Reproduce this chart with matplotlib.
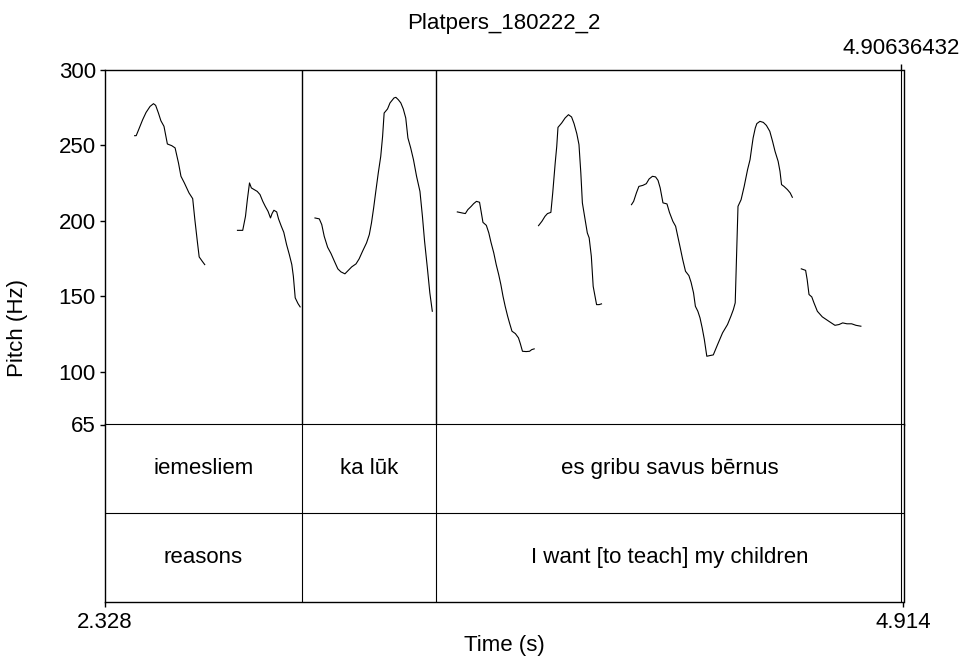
import matplotlib
matplotlib.use('Agg')
import matplotlib.pyplot as plt

plt.rcParams['font.family'] = ['Liberation Sans', 'DejaVu Sans']

title = 'Platpers_180222_2'
t_start = 2.328
t_end = 4.914
sound_end = 4.90636432
pitch_ticks = [65, 100, 150, 200, 250, 300]

# pitch contour pieces (time in s, pitch in Hz)
seg1_t = [2.424, 2.429, 2.437, 2.450, 2.461, 2.474, 2.485, 2.492, 2.501, 2.509, 2.519, 2.530,
          2.544, 2.555, 2.566, 2.574, 2.585, 2.600, 2.612, 2.619, 2.627, 2.633, 2.643, 2.651]
seg1_hz = [256.3, 256.3, 260.3, 266.9, 271.7, 275.7, 277.5, 276.4, 271.3, 266.2, 262.5, 250.8,
           249.7, 248.2, 238.2, 229.4, 225.0, 218.4, 214.6, 200.7, 186.3, 176.0, 173.1, 170.9]

seg2_t = [2.757, 2.774, 2.783, 2.789, 2.796, 2.802, 2.811, 2.821, 2.830, 2.839, 2.847, 2.856, 2.864,
          2.869, 2.875, 2.884, 2.890, 2.899, 2.907, 2.916, 2.925, 2.933, 2.938, 2.944, 2.953, 2.960]
seg2_hz = [193.6, 193.6, 202.9, 213.9, 225.0, 221.7, 220.6, 219.4, 217.3, 212.8, 209.5, 206.2, 201.8,
           204.7, 206.9, 205.8, 201.2, 196.3, 192.3, 184.2, 177.5, 170.9, 163.2, 148.9, 145.1, 142.9]

seg3_t = [3.008, 3.022, 3.030, 3.038, 3.049, 3.060, 3.071, 3.082, 3.092, 3.105, 3.116, 3.127, 3.141,
          3.151, 3.162, 3.175, 3.184, 3.191, 3.198, 3.205, 3.213, 3.221, 3.227, 3.232, 3.243, 3.251,
          3.264, 3.270, 3.278, 3.286, 3.294, 3.302, 3.309, 3.318, 3.327, 3.337, 3.348, 3.356, 3.363,
          3.372, 3.380, 3.388]
seg3_hz = [201.8, 201.2, 197.4, 189.6, 182.4, 178.2, 173.1, 168.1, 166.1, 164.8, 167.1, 169.4, 171.4,
           174.7, 179.7, 185.3, 190.8, 198.5, 208.4, 219.4, 231.6, 242.6, 255.8, 271.3, 274.0, 278.0,
           281.3, 281.7, 280.1, 278.0, 274.0, 268.0, 254.8, 248.2, 240.4, 229.4, 219.4, 202.9, 186.3,
           168.7, 152.2, 140.0]

seg4_t = [3.469, 3.485, 3.495, 3.503, 3.514, 3.522, 3.531, 3.541, 3.546, 3.552, 3.563, 3.571, 3.578,
          3.587, 3.595, 3.603, 3.610, 3.617, 3.624, 3.632, 3.638, 3.646, 3.657, 3.667, 3.673, 3.680,
          3.692, 3.703, 3.710, 3.718]
seg4_hz = [205.8, 205.1, 204.7, 207.3, 209.5, 211.3, 212.8, 212.2, 206.2, 198.9, 196.9, 191.9, 185.7,
           178.7, 170.9, 164.3, 157.7, 149.9, 143.3, 136.7, 132.3, 126.8, 125.2, 122.4, 118.6, 113.5,
           113.3, 113.5, 114.6, 115.1]

seg5_t = [3.732, 3.743, 3.753, 3.761, 3.772, 3.778, 3.786, 3.791, 3.795, 3.807, 3.818, 3.829, 3.839,
          3.847, 3.856, 3.863, 3.869, 3.874, 3.882, 3.890, 3.896, 3.903, 3.909, 3.915, 3.920, 3.928,
          3.936]
seg5_hz = [196.7, 199.6, 202.9, 204.7, 205.5, 218.4, 238.2, 249.2, 261.8, 264.7, 268.0, 270.2, 268.7,
           264.3, 257.6, 250.4, 231.6, 211.8, 201.8, 191.9, 188.6, 176.4, 156.5, 149.9, 144.4, 144.4,
           144.9]

seg6_t = [4.033, 4.040, 4.049, 4.057, 4.070, 4.081, 4.090, 4.101, 4.111, 4.119, 4.126, 4.135, 4.148,
          4.156, 4.167, 4.176, 4.183, 4.191, 4.199, 4.208, 4.219, 4.226, 4.234, 4.240, 4.248, 4.255,
          4.262, 4.269, 4.277, 4.288, 4.298, 4.312, 4.328, 4.344, 4.355, 4.363, 4.369, 4.373, 4.378,
          4.388, 4.398, 4.409, 4.417, 4.423, 4.427, 4.434, 4.439, 4.449, 4.460, 4.470, 4.481, 4.490,
          4.498, 4.508, 4.514, 4.519, 4.527, 4.538, 4.547, 4.554]
seg6_hz = [210.6, 212.8, 218.4, 222.7, 223.4, 224.5, 227.6, 229.4, 229.0, 226.7, 221.7, 211.8, 211.1,
           205.5, 199.6, 196.3, 189.6, 182.0, 174.2, 166.5, 163.6, 159.2, 152.2, 143.3, 140.0, 135.6,
           129.0, 121.3, 110.2, 110.7, 111.1, 118.0, 125.7, 131.2, 136.7, 141.1, 145.6, 174.2, 209.5,
           213.9, 222.7, 233.8, 240.4, 249.2, 254.8, 261.4, 264.3, 265.8, 265.1, 263.1, 259.2, 252.5,
           245.9, 239.3, 232.7, 223.9, 222.7, 220.6, 218.4, 215.5]

seg7_t = [4.583, 4.597, 4.602, 4.608, 4.617, 4.624, 4.635, 4.651, 4.672, 4.692, 4.705, 4.717, 4.731,
          4.746, 4.760, 4.776]
seg7_hz = [168.1, 167.1, 161.0, 151.1, 149.5, 145.6, 140.0, 136.3, 133.4, 130.7, 131.2, 132.3, 131.7,
           131.7, 130.7, 130.1]

# text grid tiers
boundaries = [2.965, 3.401]
tier1_labels = ['iemesliem', 'ka lūk', 'es gribu savus bērnus']
tier2_labels = ['reasons', '', 'I want [to teach] my children']

W, H = 961, 661
fig = plt.figure(figsize=(W / 100, H / 100), dpi=100)

left, right = 105 / W, 903.5 / W
top, mid, bottom = 1 - 69.7 / H, 1 - 424.5 / H, 1 - 601.7 / H
ax_p = fig.add_axes([left, mid, right - left, top - mid])
ax_t = fig.add_axes([left, bottom, right - left, mid - bottom])

fs = 16
lw_frame = 1.0

# pitch panel
for t, hz in [(seg1_t, seg1_hz), (seg2_t, seg2_hz), (seg3_t, seg3_hz), (seg4_t, seg4_hz),
              (seg5_t, seg5_hz), (seg6_t, seg6_hz), (seg7_t, seg7_hz)]:
    ax_p.plot(t, hz, color='black', lw=0.8)

ax_p.set_xlim(t_start, t_end)
ax_p.set_ylim(65, 300)
ax_p.set_yticks(pitch_ticks)
ax_p.set_yticklabels([str(v) for v in pitch_ticks], fontsize=fs)
ax_p.set_xticks([sound_end])
ax_p.set_xticklabels(['4.90636432'], fontsize=fs)
ax_p.tick_params(axis='x', top=True, labeltop=True, bottom=False, labelbottom=False,
                 direction='out', length=4, width=1, pad=3.5)
ax_p.tick_params(axis='y', direction='out', length=3.6, width=1, pad=3)
for b in boundaries:
    ax_p.axvline(b, color='black', lw=1.0)
ax_p.axvline(sound_end, color='black', lw=0.8)
for name, sp in ax_p.spines.items():
    sp.set_linewidth(lw_frame if name != 'bottom' else 0.8)

# tier panel
ax_t.set_xlim(t_start, t_end)
ax_t.set_ylim(0, 2)
ax_t.axhline(1, color='black', lw=0.8)
edges = [t_start] + boundaries + [t_end]
for i in range(len(tier1_labels)):
    xc = (edges[i] + edges[i + 1]) / 2
    ax_t.text(xc, 1.5, tier1_labels[i], ha='center', va='center', fontsize=fs)
    ax_t.text(xc, 0.5, tier2_labels[i], ha='center', va='center', fontsize=fs)
for b in boundaries:
    ax_t.axvline(b, color='black', lw=0.8)
ax_t.axvline(sound_end, color='black', lw=0.8)
ax_t.set_yticks([])
ax_t.set_xticks([t_start, t_end])
ax_t.set_xticklabels(['2.328', '4.914'], fontsize=fs)
ax_t.tick_params(axis='x', direction='out', length=3.6, width=1, pad=4)
for name, sp in ax_t.spines.items():
    sp.set_linewidth(lw_frame if name != 'top' else 0.8)

fig.text(504 / W, 1 - 29 / H, title, ha='center', va='baseline', fontsize=fs)
fig.text(18 / W, 1 - 328 / H, 'Pitch (Hz)', ha='center', va='center', rotation=90, fontsize=fs)
fig.text(504 / W, 1 - 645 / H, 'Time (s)', ha='center', va='center', fontsize=fs)

fig.savefig('out.png', dpi=100)
